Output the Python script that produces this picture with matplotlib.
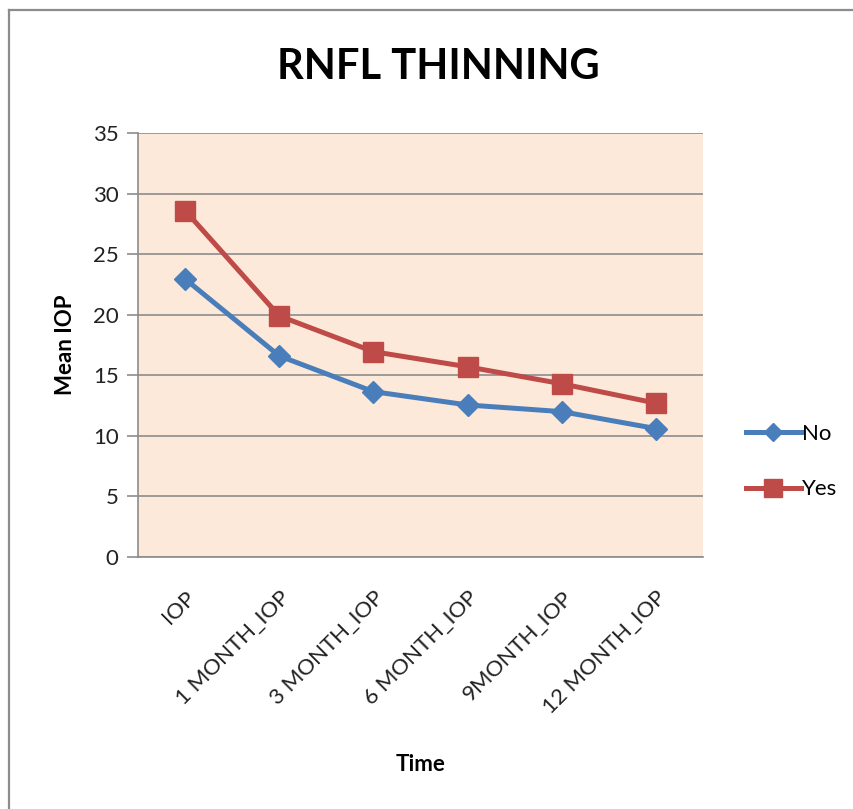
import matplotlib
matplotlib.use("Agg")
import matplotlib.pyplot as plt
from matplotlib.lines import Line2D

# Mean IOP over follow-up, split by RNFL thinning status
categories = ["IOP", "1 MONTH_IOP", "3 MONTH_IOP", "6 MONTH_IOP", "9MONTH_IOP", "12 MONTH_IOP"]
no_values = [22.95, 16.6, 13.65, 12.55, 12.0, 10.6]
yes_values = [28.6, 19.9, 16.95, 15.7, 14.3, 12.7]
y_ticks = [0, 5, 10, 15, 20, 25, 30, 35]

plt.rcParams["font.family"] = ["Lato", "DejaVu Sans"]

fig = plt.figure(figsize=(8.54, 8.09), dpi=100)
fig.patch.set_facecolor("white")

# chart frame
fig.add_artist(Line2D([9.5 / 854, 9.5 / 854], [0, 1 - 10 / 809], color="#8c8c8c", lw=1.6,
                      transform=fig.transFigure))
fig.add_artist(Line2D([9.5 / 854, 1], [1 - 10 / 809, 1 - 10 / 809], color="#8c8c8c", lw=1.6,
                      transform=fig.transFigure))

ax = fig.add_axes([138 / 854, 1 - 557 / 809, 565 / 854, 424 / 809])
ax.set_facecolor("#FDE9D9")

x = list(range(len(categories)))
ax.plot(x, no_values, color="#4A7EBB", lw=3.6, marker="D", markersize=11,
        markerfacecolor="#4A7EBB", markeredgecolor="#4A7EBB", label="No", zorder=3)
ax.plot(x, yes_values, color="#BE4B48", lw=3.6, marker="s", markersize=15,
        markerfacecolor="#BE4B48", markeredgecolor="#BE4B48", label="Yes", zorder=3)

ax.set_xlim(-0.5, len(categories) - 0.5)
ax.set_ylim(0, 35)
ax.set_yticks(y_ticks)
ax.set_yticklabels([str(v) for v in y_ticks], fontsize=16, color="#222222")
ax.yaxis.grid(True, color="#8c8c8c", lw=1.2)
ax.set_axisbelow(True)

ax.set_xticks(x)
ax.set_xticklabels(categories, rotation=45, ha="right", va="top", rotation_mode="anchor",
                   fontsize=16, color="#222222")
ax.tick_params(axis="x", length=0, pad=22)
ax.tick_params(axis="y", length=8, width=1.2, color="#8c8c8c", pad=6, direction="out")

for side in ["top", "right"]:
    ax.spines[side].set_visible(False)
for side in ["left", "bottom"]:
    ax.spines[side].set_color("#8c8c8c")
    ax.spines[side].set_linewidth(1.2)

ax.set_ylabel("Mean IOP", fontsize=16, fontweight="bold", labelpad=12)
ax.set_xlabel("Time", fontsize=16, fontweight="bold", labelpad=26)

fig.text(438 / 854, 1 - 67 / 809, "RNFL THINNING", ha="center", va="center",
         fontsize=30, fontweight="bold")

leg = ax.legend(loc="center left", bbox_to_anchor=(1.04, 0.225), frameon=False,
                fontsize=16, handlelength=2.5, handletextpad=0.05, labelspacing=1.6,
                markerscale=0.85)

fig.savefig("out.png", dpi=100, facecolor="white")
